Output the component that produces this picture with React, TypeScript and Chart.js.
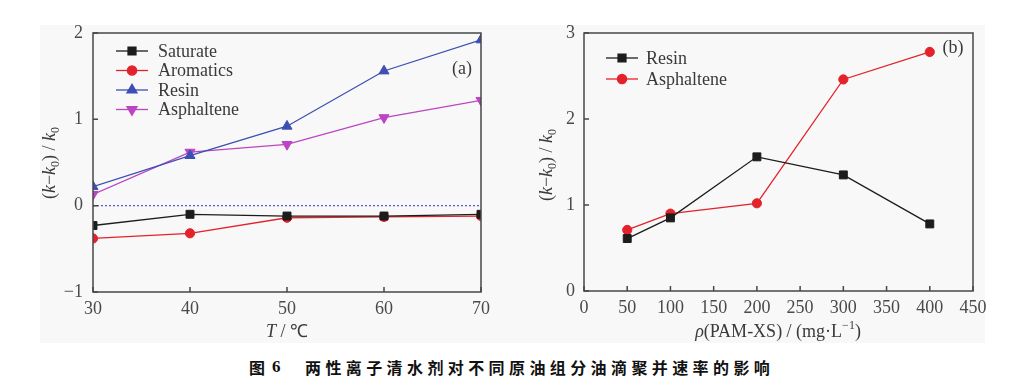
import React, { useEffect, useRef } from "react";
import { Chart, registerables } from "chart.js";
import { drawPoint } from "chart.js/helpers";

Chart.register(...registerables);

// ---- Data: panel (a) ----
const temperatures = [30, 40, 50, 60, 70];
const saturateT = [-0.23, -0.10, -0.12, -0.12, -0.10];
const aromaticsT = [-0.38, -0.32, -0.14, -0.13, -0.12];
const resinT = [0.22, 0.58, 0.92, 1.56, 1.92];
const asphalteneT = [0.13, 0.62, 0.71, 1.02, 1.22];
const xTicksA = [30, 40, 50, 60, 70];
const yTicksA = [-1, 0, 1, 2];

// ---- Data: panel (b) ----
const dosages = [50, 100, 200, 300, 400];
const resinD = [0.61, 0.85, 1.56, 1.35, 0.78];
const asphalteneD = [0.71, 0.90, 1.02, 2.46, 2.78];
const xTicksB = [0, 50, 100, 150, 200, 250, 300, 350, 400, 450];
const yTicksB = [0, 1, 2, 3];

const FONT = '"Liberation Serif", "Times New Roman", serif';
const AXIS = "#474747";
const TEXT = "#3a3a3a";

type Seg = { t: string; it?: boolean; sub?: boolean; sup?: boolean };

function drawRich(ctx: CanvasRenderingContext2D, segs: Seg[], cx: number, cy: number, rotate: boolean, size: number, color: string) {
  ctx.save();
  ctx.translate(cx, cy);
  if (rotate) ctx.rotate(-Math.PI / 2);
  const fontFor = (s: Seg) => `${s.it ? "italic " : ""}${s.sub || s.sup ? Math.round(size * 0.65) : size}px ${FONT}`;
  const widths = segs.map((s) => {
    ctx.font = fontFor(s);
    return ctx.measureText(s.t).width;
  });
  const total = widths.reduce((a, b) => a + b, 0);
  let xx = -total / 2;
  ctx.textBaseline = "middle";
  ctx.textAlign = "left";
  ctx.fillStyle = color;
  segs.forEach((s, i) => {
    ctx.font = fontFor(s);
    const dy = s.sub ? size * 0.3 : s.sup ? -size * 0.33 : 0;
    ctx.fillText(s.t, xx, dy);
    xx += widths[i];
  });
  ctx.restore();
}

const overlayPlugin = {
  id: "overlay",
  afterDraw(chart: any, _args: any, opts: any) {
    const { ctx, chartArea } = chart;
    const { left, right, top, bottom } = chartArea;
    const xs = chart.scales.x;
    const ys = chart.scales.y;
    ctx.save();
    // frame
    ctx.strokeStyle = AXIS;
    ctx.lineWidth = 1.5;
    ctx.strokeRect(left, top, right - left, bottom - top);
    // inward ticks
    ctx.beginPath();
    xs.ticks.forEach((t: any) => {
      const px = xs.getPixelForValue(t.value);
      ctx.moveTo(px, bottom);
      ctx.lineTo(px, bottom - 5);
    });
    ys.ticks.forEach((t: any) => {
      const py = ys.getPixelForValue(t.value);
      ctx.moveTo(left, py);
      ctx.lineTo(left + 5, py);
    });
    ctx.stroke();
    // titles
    drawRich(ctx, opts.xTitle, opts.xTitlePos[0], opts.xTitlePos[1], false, 18, TEXT);
    drawRich(ctx, opts.yTitle, opts.yTitlePos[0], opts.yTitlePos[1], true, 18, TEXT);
    // panel label
    ctx.font = `18px ${FONT}`;
    ctx.fillStyle = TEXT;
    ctx.textAlign = "center";
    ctx.textBaseline = "middle";
    ctx.fillText(opts.panel, opts.panelPos[0], opts.panelPos[1]);
    // legend
    const lg = opts.legend;
    chart.data.datasets.forEach((ds: any, i: number) => {
      if (ds.hideLegend) return;
      const y = lg.y + lg.idx(i) * lg.dy;
      ctx.strokeStyle = ds.borderColor;
      ctx.lineWidth = ds.borderWidth;
      ctx.beginPath();
      ctx.moveTo(lg.x0, y);
      ctx.lineTo(lg.x1, y);
      ctx.stroke();
      ctx.fillStyle = ds.pointBackgroundColor;
      ctx.strokeStyle = ds.pointBorderColor;
      drawPoint(ctx, { pointStyle: ds.pointStyle, radius: ds.pointRadius, rotation: ds.pointRotation || 0, borderWidth: 1 } as any, (lg.x0 + lg.x1) / 2, y);
      ctx.font = `18px ${FONT}`;
      ctx.fillStyle = TEXT;
      ctx.textAlign = "left";
      ctx.textBaseline = "middle";
      ctx.fillText(ds.label, lg.tx, y + 1);
    });
    ctx.restore();
  },
};

function series(label: string, xs: number[], ys: number[], color: string, style: string, radius: number, rotation = 0) {
  return {
    label,
    data: xs.map((x, i) => ({ x, y: ys[i] })),
    borderColor: color,
    borderWidth: 1.3,
    pointStyle: style,
    pointRadius: radius,
    pointRotation: rotation,
    pointBackgroundColor: color,
    pointBorderColor: color,
    pointBorderWidth: 1,
    tension: 0,
  };
}

function makeScales(xmin: number, xmax: number, xstep: number, xTicks: number[], ymin: number, ymax: number, yTicks: number[], yWidth: number, xHeight: number, yPad: number) {
  const tickFont = { family: FONT, size: 18 };
  return {
    x: {
      type: "linear",
      min: xmin,
      max: xmax,
      afterBuildTicks: (s: any) => {
        s.ticks = xTicks.map((v) => ({ value: v }));
      },
      ticks: { stepSize: xstep, font: tickFont, color: "#4a4a4a", padding: 6, maxRotation: 0, autoSkip: false },
      grid: { display: false, drawTicks: false, tickLength: 0 },
      border: { display: false },
      afterFit: (s: any) => {
        s.height = xHeight;
      },
    },
    y: {
      type: "linear",
      min: ymin,
      max: ymax,
      afterBuildTicks: (s: any) => {
        s.ticks = yTicks.map((v) => ({ value: v }));
      },
      ticks: {
        font: tickFont,
        color: "#4a4a4a",
        padding: yPad,
        autoSkip: false,
        callback: (v: any) => String(v).replace("-", "\u2212"),
      },
      grid: { display: false, drawTicks: false, tickLength: 0 },
      border: { display: false },
      afterFit: (s: any) => {
        s.width = yWidth;
      },
    },
  };
}

function Panel({ config, left }: { config: any; left: number }) {
  const ref = useRef<HTMLCanvasElement>(null);
  useEffect(() => {
    const chart = new Chart(ref.current!, config);
    return () => chart.destroy();
  }, []);
  return (
    <canvas
      ref={ref}
      width={509}
      height={350}
      style={{ position: "absolute", left, top: 0, width: 509, height: 350 }}
    />
  );
}

const kTitle: Seg[] = [
  { t: "(" },
  { t: "k", it: true },
  { t: "\u2212" },
  { t: "k", it: true },
  { t: "0", sub: true },
  { t: ") / " },
  { t: "k", it: true },
  { t: "0", sub: true },
];

const configA = {
  type: "line",
  data: {
    datasets: [
      series("Saturate", temperatures, saturateT, "#1c1c1c", "rect", 5.6),
      series("Aromatics", temperatures, aromaticsT, "#e3222b", "circle", 4.6),
      series("Resin", temperatures, resinT, "#3d4fb2", "triangle", 5.8),
      series("Asphaltene", temperatures, asphalteneT, "#bb45c3", "triangle", 5.8, 180),
      {
        label: "zero",
        hideLegend: true,
        data: [{ x: 30, y: 0 }, { x: 70, y: 0 }],
        borderColor: "#5050c8",
        borderWidth: 1.2,
        borderDash: [2, 2],
        pointRadius: 0,
      },
    ],
  },
  options: {
    animation: false,
    responsive: false,
    maintainAspectRatio: false,
    layout: { padding: { left: 0, right: 28, top: 33, bottom: 0 } },
    plugins: {
      legend: { display: false },
      tooltip: { enabled: false },
      overlay: {
        xTitle: [{ t: "T", it: true }, { t: " / \u2103" }],
        xTitlePos: [287, 332],
        yTitle: kTitle,
        yTitlePos: [50, 163],
        panel: "(a)",
        panelPos: [462, 69],
        legend: { x0: 116, x1: 148, tx: 158, y: 51, dy: 19.5, idx: (i: number) => i },
      },
    },
    scales: makeScales(30, 70, 10, xTicksA, -1, 2, yTicksA, 93, 58, 10),
  },
  plugins: [overlayPlugin],
};

const configB = {
  type: "line",
  data: {
    datasets: [
      series("Resin", dosages, resinD, "#1c1c1c", "rect", 5.6),
      series("Asphaltene", dosages, asphalteneD, "#e3222b", "circle", 4.6),
    ],
  },
  options: {
    animation: false,
    responsive: false,
    maintainAspectRatio: false,
    layout: { padding: { left: 0, right: 45, top: 33, bottom: 0 } },
    plugins: {
      legend: { display: false },
      tooltip: { enabled: false },
      overlay: {
        xTitle: [{ t: "\u03C1", it: true }, { t: "(PAM-XS) / (mg\u00B7L" }, { t: "\u22121", sup: true }, { t: ")" }],
        xTitlePos: [269, 332],
        yTitle: kTitle,
        yTitlePos: [38, 165],
        panel: "(b)",
        panelPos: [444, 48],
        legend: { x0: 97, x1: 129, tx: 137, y: 58, dy: 21, idx: (i: number) => i },
      },
    },
    scales: makeScales(0, 450, 50, xTicksB, 0, 3, yTicksB, 75, 59, 9),
  },
  plugins: [overlayPlugin],
};

export default function App() {
  return (
    <div style={{ position: "fixed", left: 0, top: 0, width: 1018, height: 385, background: "#ffffff", overflow: "hidden" }}>
      <div style={{ position: "absolute", left: 40, top: 25, width: 945, height: 318, background: "#f8f8f8" }} />
      <Panel config={configA} left={0} />
      <Panel config={configB} left={509} />
      <div
        style={{
          position: "absolute",
          left: 249,
          top: 356,
          fontFamily: '"Noto Sans CJK SC", sans-serif',
          fontWeight: 700,
          fontSize: 16,
          lineHeight: "22px",
          color: "#111",
          whiteSpace: "nowrap",
        }}
      >
        <span style={{ position: "absolute", left: 0, top: 0 }}>图</span>
        <span style={{ position: "absolute", left: 23, top: 0, fontFamily: FONT, fontSize: 17 }}>6</span>
        <span style={{ position: "absolute", left: 56, top: 0, letterSpacing: "4.4px" }}>
          两性离子清水剂对不同原油组分油滴聚并速率的影响
        </span>
      </div>
    </div>
  );
}
